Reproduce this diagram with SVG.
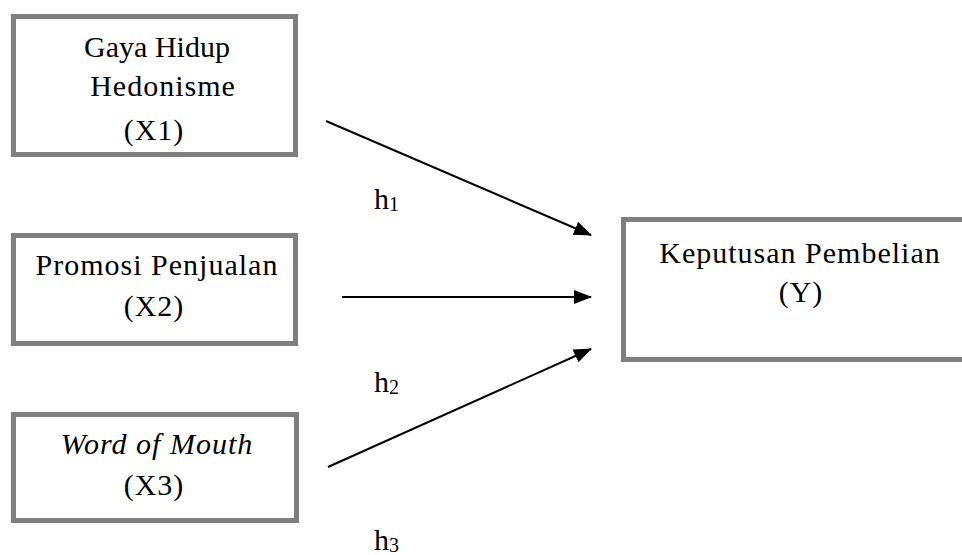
<svg xmlns="http://www.w3.org/2000/svg" width="962" height="555" viewBox="0 0 962 555">
<defs>
<style>
.box{fill:#fff;stroke:#7f7f7f;stroke-width:5}
.t{font-size:30px;fill:#000;text-anchor:middle;letter-spacing:1px}
.it{font-style:italic}
.lbl{font-size:30px;fill:#000}
.sub{font-size:20px}
.conn{stroke:#000;stroke-width:2;fill:none;marker-end:url(#ah)}
</style>
<marker id="ah" markerUnits="userSpaceOnUse" markerWidth="18" markerHeight="14" viewBox="0 0 18 14" refX="17" refY="7" orient="auto">
<path d="M0,0 L18,7 L0,14 Z" fill="#000"/>
</marker>
</defs>
<rect width="962" height="555" fill="#fff"/>
<g font-family="'Liberation Serif', 'Times New Roman', 'DejaVu Serif', serif">
<g id="x1">
<rect class="box" x="13.5" y="16.5" width="282" height="138"/>
<text class="t" x="157" y="57" style="letter-spacing:0">Gaya Hidup</text>
<text class="t" x="163" y="96">Hedonisme</text>
<text class="t" x="154" y="140">(X1)</text>
</g>
<g id="x2">
<rect class="box" x="13.5" y="235.5" width="282" height="108"/>
<text class="t" x="157" y="275">Promosi Penjualan</text>
<text class="t" x="154" y="316">(X2)</text>
</g>
<g id="x3">
<rect class="box" x="13.5" y="414.5" width="283" height="106"/>
<text class="t it" x="157" y="454">Word of Mouth</text>
<text class="t" x="154" y="495">(X3)</text>
</g>
<g id="y">
<rect class="box" x="623.5" y="219.5" width="345" height="140"/>
<text class="t" x="800" y="263">Keputusan Pembelian</text>
<text class="t" x="801" y="302">(Y)</text>
</g>
<g id="connectors">
<line class="conn" x1="326" y1="121" x2="591" y2="235"/>
<line class="conn" x1="342" y1="297" x2="591" y2="297"/>
<line class="conn" x1="328" y1="467" x2="591" y2="349"/>
</g>
<g id="labels">
<text class="lbl" x="374" y="209">h<tspan class="sub" dy="2">1</tspan></text>
<text class="lbl" x="374" y="392">h<tspan class="sub" dy="2">2</tspan></text>
<text class="lbl" x="374" y="550">h<tspan class="sub" dy="2">3</tspan></text>
</g>
</g>
</svg>
